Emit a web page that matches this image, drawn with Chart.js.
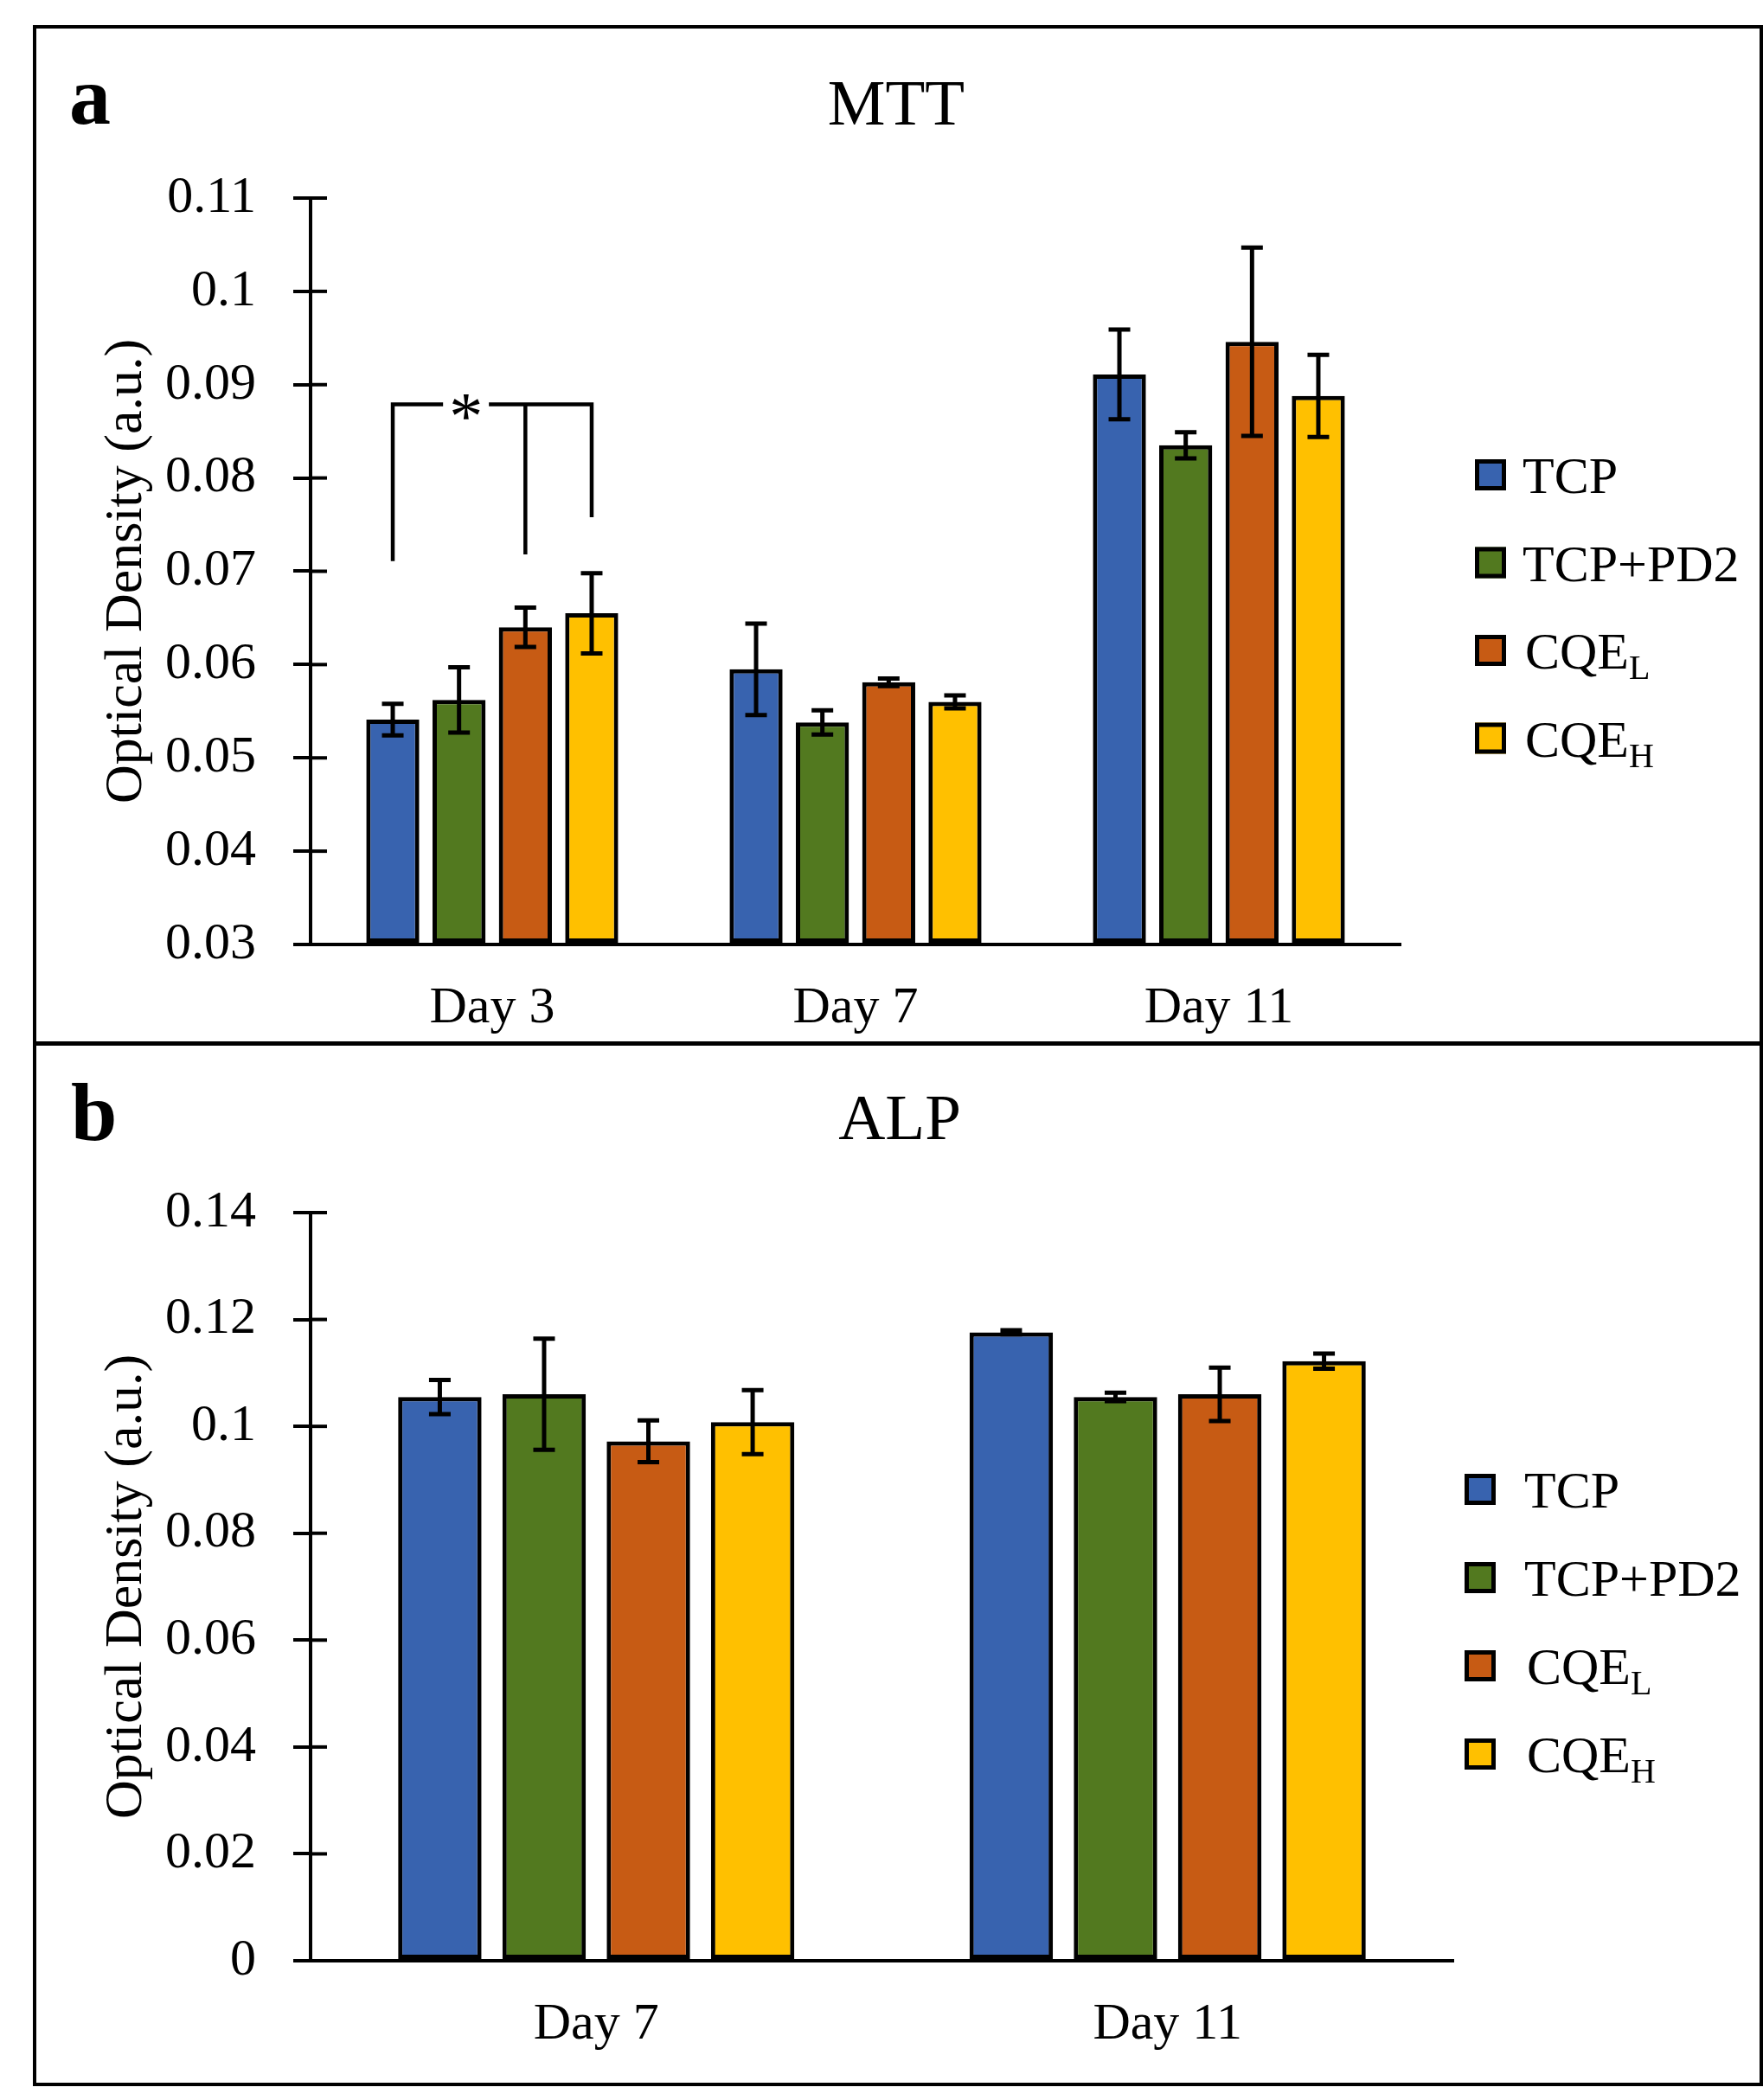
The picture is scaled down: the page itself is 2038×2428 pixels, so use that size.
<!DOCTYPE html>
<html><head><meta charset="utf-8">
<script src="https://cdn.jsdelivr.net/npm/chart.js@4.4.1/dist/chart.umd.min.js"></script>
<style>
html,body{margin:0;padding:0;background:#fff;}
body{width:2038px;height:2428px;position:relative;overflow:hidden;}
canvas{position:absolute;left:0;}
#ca{top:0;}
#cb{top:1206px;}
.frame{position:absolute;left:38px;top:29px;width:2000px;height:2383px;border:4px solid #000;box-sizing:border-box;}
.divider{position:absolute;left:38px;top:1204px;width:2000px;height:5px;background:#000;}
</style></head><body>
<canvas id="ca" width="2038" height="1206"></canvas>
<canvas id="cb" width="2038" height="1222"></canvas>
<div class="frame"></div><div class="divider"></div>
<script>
// ---------- data ----------
const seriesMain = ['TCP', 'TCP+PD2', 'CQE', 'CQE'];
const seriesSub  = ['', '', 'L', 'H'];

const mttTitle = 'MTT';
const mttDays = ['Day 3', 'Day 7', 'Day 11'];
const mttTCP      = [0.0541, 0.0595, 0.0911];
const mttTCPPD2   = [0.0562, 0.0538, 0.0835];
const mttCQEL     = [0.0640, 0.0581, 0.0946];
const mttCQEH     = [0.0655, 0.0560, 0.0888];
const mttTCPErr    = [0.0017, 0.0049, 0.0048];
const mttTCPPD2Err = [0.0035, 0.0013, 0.0014];
const mttCQELErr   = [0.0021, 0.0004, 0.0101];
const mttCQEHErr   = [0.0043, 0.0007, 0.0044];
const mttTickLabels = ['0.03','0.04','0.05','0.06','0.07','0.08','0.09','0.1','0.11'];

const alpTitle = 'ALP';
const alpDays = ['Day 7', 'Day 11'];
const alpTCP      = [0.1055, 0.1176];
const alpTCPPD2   = [0.1060, 0.1055];
const alpCQEL     = [0.0972, 0.1060];
const alpCQEH     = [0.1008, 0.1122];
const alpTCPErr    = [0.0032, 0.0004];
const alpTCPPD2Err = [0.0104, 0.0008];
const alpCQELErr   = [0.0039, 0.0050];
const alpCQEHErr   = [0.0060, 0.0014];
const alpTickLabels = ['0','0.02','0.04','0.06','0.08','0.1','0.12','0.14'];

const yTitle = 'Optical Density (a.u.)';
// significance bracket (Day 3: TCP vs CQE_L and CQE_H), in data units
const mttBracket = {category: 0, fromSeries: 0, toSeries: [2, 3], level: 0.0879, ends: [0.0711, 0.0718, 0.0758], mark: '*'};

// ---------- styles ----------
const FONT = "'Liberation Serif', 'Times New Roman', Times, serif";
const seriesColors = ['#3863AF', '#52791F', '#C75B14', '#FFC000'];

// ---------- plugins ----------
const errorBars = {
  id: 'errorBars',
  afterDatasetsDraw(chart, args, o) {
    const ctx = chart.ctx, y = chart.scales.y;
    ctx.save();
    ctx.strokeStyle = '#000'; ctx.lineWidth = o.lineWidth; ctx.lineCap = 'butt';
    chart.data.datasets.forEach((ds, i) => {
      chart.getDatasetMeta(i).data.forEach((bar, j) => {
        const v = ds.data[j], e = ds.errors[j];
        const yt = y.getPixelForValue(v + e), yb = y.getPixelForValue(v - e);
        const x = bar.x, hw = o.capWidth / 2;
        ctx.beginPath();
        ctx.moveTo(x, yt); ctx.lineTo(x, yb);
        ctx.moveTo(x - hw, yt); ctx.lineTo(x + hw, yt);
        ctx.moveTo(x - hw, yb); ctx.lineTo(x + hw, yb);
        ctx.stroke();
      });
    });
    ctx.restore();
  }
};

const crossTicks = {
  id: 'crossTicks',
  afterDraw(chart, args, o) {
    const ctx = chart.ctx, y = chart.scales.y, left = chart.chartArea.left;
    ctx.save(); ctx.strokeStyle = '#000'; ctx.lineWidth = o.lineWidth;
    y.ticks.forEach((t, i) => {
      const py = y.getPixelForTick(i);
      ctx.beginPath(); ctx.moveTo(left, py); ctx.lineTo(left + o.length, py); ctx.stroke();
    });
    ctx.restore();
  }
};

const sigBracket = {
  id: 'sigBracket',
  afterDatasetsDraw(chart, args, o) {
    if (!o || !o.bracket) return;
    const b = o.bracket, y = chart.scales.y, ctx = chart.ctx;
    const series = [b.fromSeries].concat(b.toSeries);
    const xs = series.map(s => chart.getDatasetMeta(s).data[b.category].x);
    const yl = y.getPixelForValue(b.level);
    const gc = (xs[0] + xs[1]) / 2 + o.gapOffset;
    ctx.save();
    ctx.strokeStyle = '#000'; ctx.lineWidth = o.lineWidth; ctx.lineCap = 'butt'; ctx.lineJoin = 'miter';
    ctx.beginPath();
    ctx.moveTo(xs[0], y.getPixelForValue(b.ends[0])); ctx.lineTo(xs[0], yl); ctx.lineTo(gc - o.gap / 2, yl);
    ctx.moveTo(gc + o.gap / 2, yl); ctx.lineTo(xs[xs.length - 1], yl); ctx.lineTo(xs[xs.length - 1], y.getPixelForValue(b.ends[xs.length - 1]));
    for (let k = 1; k < xs.length - 1; k++) {
      ctx.moveTo(xs[k], yl); ctx.lineTo(xs[k], y.getPixelForValue(b.ends[k]));
    }
    ctx.stroke();
    ctx.fillStyle = '#000';
    ctx.font = o.markFont;
    ctx.textAlign = 'center'; ctx.textBaseline = 'alphabetic';
    ctx.fillText(b.mark, gc, yl + o.markDy);
    ctx.restore();
  }
};

const customLegend = {
  id: 'customLegend',
  afterDraw(chart, args, o) {
    const ctx = chart.ctx;
    ctx.save();
    chart.data.datasets.forEach((ds, i) => {
      const cy = o.y0 + i * o.dy;
      ctx.fillStyle = ds.backgroundColor;
      ctx.fillRect(o.x, cy - o.size / 2, o.size, o.size);
      ctx.strokeStyle = '#000'; ctx.lineWidth = 5;
      ctx.strokeRect(o.x + 2.5, cy - o.size / 2 + 2.5, o.size - 5, o.size - 5);
      ctx.fillStyle = '#000';
      ctx.textAlign = 'left'; ctx.textBaseline = 'alphabetic';
      ctx.font = o.fontSize + 'px ' + FONT;
      const tx = o.textX + (ds.sub ? o.subShift : 0);
      ctx.fillText(ds.main, tx, cy + o.baselineDy);
      if (ds.sub) {
        const w = ctx.measureText(ds.main).width;
        ctx.font = o.subSize + 'px ' + FONT;
        ctx.fillText(ds.sub, tx + w, cy + o.baselineDy + o.subDrop);
      }
    });
    ctx.restore();
  }
};

const panelText = {
  id: 'panelText',
  afterDraw(chart, args, o) {
    const ctx = chart.ctx;
    ctx.save(); ctx.fillStyle = '#000'; ctx.textBaseline = 'alphabetic';
    ctx.font = 'bold ' + o.letterSize + 'px ' + FONT;
    ctx.textAlign = 'left';
    ctx.fillText(o.letter, o.letterX, o.letterY);
    ctx.font = o.titleSize + 'px ' + FONT;
    ctx.textAlign = 'center';
    ctx.fillText(o.title, o.titleX, o.titleY);
    ctx.restore();
  }
};

// ---------- builders ----------
function makeDatasets(values, errors, base) {
  return values.map((vals, i) => ({
    label: seriesMain[i] + seriesSub[i],
    main: seriesMain[i], sub: seriesSub[i],
    data: vals, errors: errors[i],
    backgroundColor: seriesColors[i],
    borderColor: '#000', borderWidth: 5, borderSkipped: false,
    base: base,
    categoryPercentage: 0.73, barPercentage: 0.8
  }));
}

function yAxis(min, max, step, labels) {
  return {
    min: min, max: max,
    ticks: {
      stepSize: step, padding: 43, color: '#000',
      font: {family: FONT, size: 60},
      callback: v => { const l = labels.find(s => Math.abs(Number(s) - v) < 1e-6); return l === undefined ? '' : l; }
    },
    grid: {display: true, drawOnChartArea: false, drawTicks: true, tickLength: 20, color: '#000', lineWidth: 4},
    border: {display: true, color: '#000', width: 4},
    title: {display: true, text: yTitle, color: '#000', font: {family: FONT, size: 62}, padding: {top: 110, bottom: 0}},
    afterFit: s => { s.width = 359; }
  };
}

function xAxis(h) {
  return {
    ticks: {color: '#000', font: {family: FONT, size: 60}, padding: 30},
    grid: {display: false},
    border: {display: true, color: '#000', width: 4},
    afterFit: s => { s.height = h; }
  };
}

const plugins = [errorBars, crossTicks, sigBracket, customLegend, panelText];

new Chart(document.getElementById('ca'), {
  type: 'bar',
  data: {
    labels: mttDays,
    datasets: makeDatasets([mttTCP, mttTCPPD2, mttCQEL, mttCQEH], [mttTCPErr, mttTCPPD2Err, mttCQELErr, mttCQEHErr], 0.03)
  },
  options: {
    responsive: false, animation: false, devicePixelRatio: 1,
    layout: {padding: {left: 0, right: 419, top: 229, bottom: 0}},
    scales: {x: xAxis(114), y: yAxis(0.03, 0.11, 0.01, mttTickLabels)},
    plugins: {
      legend: {display: false}, title: {display: false}, tooltip: {enabled: false},
      errorBars: {lineWidth: 5, capWidth: 25},
      crossTicks: {lineWidth: 4, length: 19},
      sigBracket: {bracket: mttBracket, lineWidth: 4.5, gap: 53, gapOffset: 8, markFont: '78px ' + FONT, markDy: 40},
      customLegend: {x: 1705, y0: 549, dy: 101.5, size: 36, textX: 1760, fontSize: 60, subSize: 40, subDrop: 12, subShift: 3, baselineDy: 21},
      panelText: {letter: 'a', letterX: 80, letterY: 143, letterSize: 96, title: mttTitle, titleX: 1036, titleY: 144, titleSize: 75}
    }
  },
  plugins: plugins
});

new Chart(document.getElementById('cb'), {
  type: 'bar',
  data: {
    labels: alpDays,
    datasets: makeDatasets([alpTCP, alpTCPPD2, alpCQEL, alpCQEH], [alpTCPErr, alpTCPPD2Err, alpCQELErr, alpCQEHErr], 0)
  },
  options: {
    responsive: false, animation: false, devicePixelRatio: 1,
    layout: {padding: {left: 0, right: 358, top: 196, bottom: 0}},
    scales: {x: xAxis(161), y: yAxis(0, 0.14, 0.02, alpTickLabels)},
    plugins: {
      legend: {display: false}, title: {display: false}, tooltip: {enabled: false},
      errorBars: {lineWidth: 5, capWidth: 25},
      crossTicks: {lineWidth: 4, length: 19},
      sigBracket: {bracket: null},
      customLegend: {x: 1693, y0: 516, dy: 102, size: 36, textX: 1762, fontSize: 60, subSize: 40, subDrop: 12, subShift: 3, baselineDy: 21},
      panelText: {letter: 'b', letterX: 82, letterY: 112, letterSize: 96, title: alpTitle, titleX: 1040, titleY: 111, titleSize: 75}
    }
  },
  plugins: plugins
});
</script>
</body></html>
